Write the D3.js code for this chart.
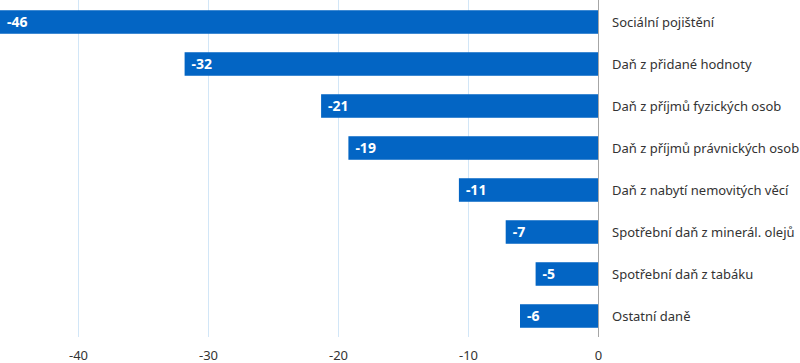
<!DOCTYPE html>
<html>
<head>
<meta charset="utf-8">
<script src="https://cdn.jsdelivr.net/npm/d3@7"></script>
<style>
  body { margin: 0; background: #fff; }
  svg { display: block; font-family: "Noto Sans", "Open Sans", sans-serif; }
</style>
</head>
<body>
<div id="chart"></div>
<script>
// categories, top to bottom
var categories = [
  "Sociální pojištění",
  "Daň z přidané hodnoty",
  "Daň z příjmů fyzických osob",
  "Daň z příjmů právnických osob",
  "Daň z nabytí nemovitých věcí",
  "Spotřební daň z minerál. olejů",
  "Spotřební daň z tabáku",
  "Ostatní daně"
];

// change
var values = [-46.0, -31.8, -21.3, -19.2, -10.7, -7.1, -4.8, -6.0];

var xTicks = [-40, -30, -20, -10, 0];

var width = 800;
var height = 363;
var margin = { top: 1, right: 202, bottom: 26, left: 0 };

var svg = d3.select("#chart")
  .append("svg")
  .attr("width", width)
  .attr("height", height);

var x = d3.scaleLinear()
  .domain([-46, 0])
  .range([margin.left, width - margin.right]);

var y = d3.scaleBand()
  .domain(categories)
  .range([margin.top, height - margin.bottom])
  .paddingInner(0.44)
  .paddingOuter(0.22);

// gridlines
svg.append("g")
  .selectAll("line")
  .data(xTicks.filter(function (d) { return d !== 0; }))
  .enter().append("line")
  .attr("x1", function (d) { return x(d) + 0.5; })
  .attr("x2", function (d) { return x(d) + 0.5; })
  .attr("y1", 0)
  .attr("y2", height - margin.bottom)
  .attr("stroke", "#d2e6f7")
  .attr("stroke-width", 1);

// bars
svg.append("g")
  .selectAll("rect")
  .data(values)
  .enter().append("rect")
  .attr("x", function (d) { return x(d); })
  .attr("y", function (d, i) { return y(categories[i]); })
  .attr("width", function (d) { return x(0) - x(d); })
  .attr("height", y.bandwidth())
  .attr("fill", "#0365c4");

// value labels inside bars
svg.append("g")
  .selectAll("text")
  .data(values)
  .enter().append("text")
  .attr("x", function (d) { return x(d) + 7; })
  .attr("y", function (d, i) { return y(categories[i]) + y.bandwidth() / 2; })
  .attr("dy", "0.36em")
  .attr("fill", "#fff")
  .style("font-size", "14px")
  .style("font-weight", "bold")
  .text(function (d) { return String(Math.round(d)); });

// zero line
svg.append("line")
  .attr("x1", x(0) + 0.5)
  .attr("x2", x(0) + 0.5)
  .attr("y1", 0)
  .attr("y2", height - margin.bottom)
  .attr("stroke", "#a6a6a6");

// category labels
svg.append("g")
  .selectAll("text")
  .data(categories)
  .enter().append("text")
  .attr("x", x(0) + 14)
  .attr("y", function (d) { return y(d) + y.bandwidth() / 2; })
  .attr("dy", "0.35em")
  .attr("fill", "#333")
  .style("font-size", "13px")
  .text(function (d) { return d; });

// x axis
var xAxis = d3.axisBottom(x)
  .tickValues(xTicks)
  .tickSize(0)
  .tickPadding(14)
  .tickFormat(function (d) { return String(d); });

var axisG = svg.append("g")
  .attr("transform", "translate(0," + (height - margin.bottom) + ")")
  .call(xAxis);
axisG.select(".domain").remove();
axisG.selectAll("text")
  .attr("fill", "#333")
  .style("font-size", "13px")
  .style("font-family", "\"Noto Sans\", sans-serif");
</script>
</body>
</html>
